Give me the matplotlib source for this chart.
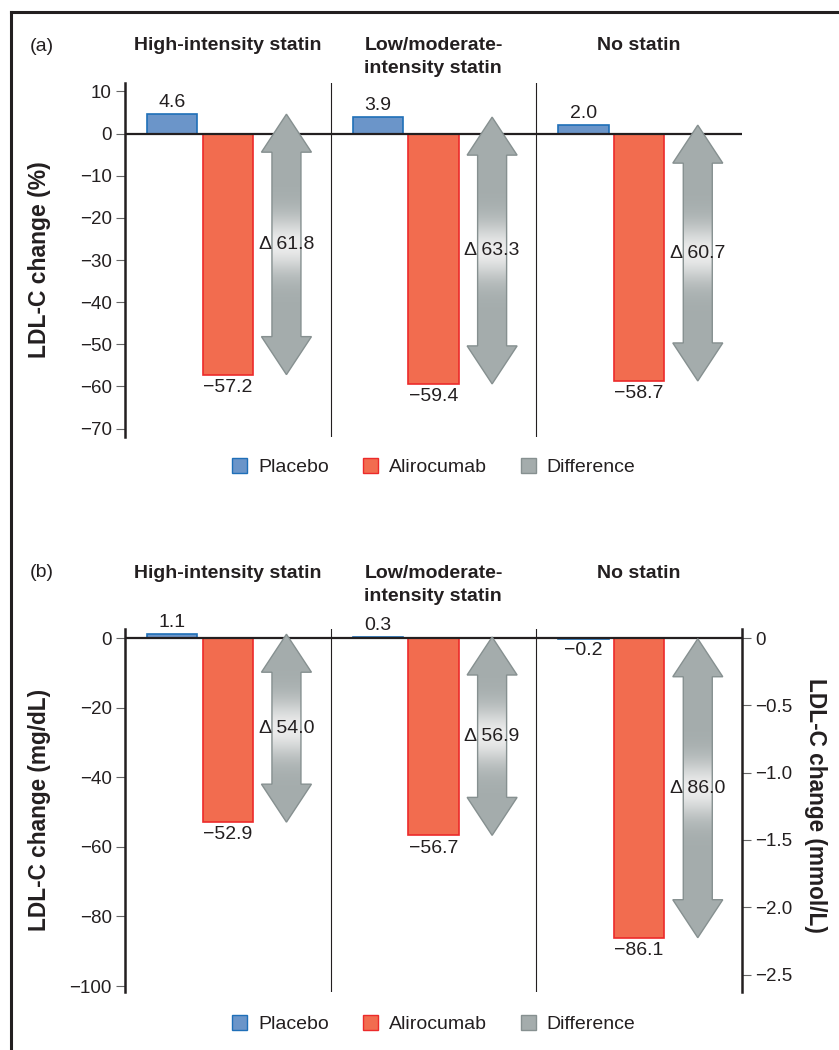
import numpy as np
import matplotlib
matplotlib.use("Agg")
import matplotlib.pyplot as plt
from matplotlib.patches import Polygon, Patch
from matplotlib.lines import Line2D
from matplotlib.colors import to_rgb

plt.rcParams['font.family'] = ['Liberation Sans', 'DejaVu Sans']

# data
groups = ["High-intensity statin", "Low/moderate-\nintensity statin", "No statin"]
pct_placebo = [4.6, 3.9, 2.0]
pct_alirocumab = [-57.2, -59.4, -58.7]
pct_difference = [61.8, 63.3, 60.7]
mgdl_placebo = [1.1, 0.3, -0.2]
mgdl_alirocumab = [-52.9, -56.7, -86.1]
mgdl_difference = [54.0, 56.9, 86.0]
pct_ticks = [10, 0, -10, -20, -30, -40, -50, -60, -70]
mgdl_ticks = [0, -20, -40, -60, -80, -100]
mmol_ticks = [0, -0.5, -1.0, -1.5, -2.0, -2.5]
MGDL_PER_MMOL = 38.67

INK = '#231f20'
BLUE_FILL, BLUE_EDGE = '#6b95c9', '#1f6fb8'
RED_FILL, RED_EDGE = '#f26c4f', '#ec2a2a'
GREY_FILL, GREY_EDGE = '#a4acac', '#869090'
LIGHT = '#ececec'


def fmt(v):
    return f"{v:.1f}".replace('-', '\u2212')


def draw_arrow(ax, xc, top, bottom, delta):
    p0 = ax.transData.transform((0, 0))
    p1 = ax.transData.transform((1, 1))
    ppx, ppy = p1[0] - p0[0], p1[1] - p0[1]
    hl = 38 / ppy
    hw = 25 / ppx
    sw = 14.5 / ppx
    pts = [(xc, top), (xc + hw, top - hl), (xc + sw, top - hl),
           (xc + sw, bottom + hl), (xc + hw, bottom + hl), (xc, bottom),
           (xc - hw, bottom + hl), (xc - sw, bottom + hl),
           (xc - sw, top - hl), (xc - hw, top - hl)]
    poly = Polygon(pts, closed=True, facecolor='none', edgecolor=GREY_EDGE,
                   lw=1.0, zorder=5)
    ax.add_patch(poly)
    mid = (top + bottom) / 2
    ys = np.linspace(bottom, top, 300)
    w = np.exp(-((ys - mid) / (28 / ppy)) ** 2)[:, None]
    img = np.array(to_rgb(GREY_FILL)) * (1 - w) + np.array(to_rgb(LIGHT)) * w
    im = ax.imshow(img[:, None, :], extent=[xc - hw, xc + hw, bottom, top],
                   origin='lower', aspect='auto', zorder=4,
                   interpolation='bilinear')
    im.set_clip_path(poly)
    ax.text(xc, mid, "\u0394 " + f"{delta:.1f}", ha='center', va='center',
            fontsize=14, color=INK, zorder=6)


def panel(ax, placebo, alirocumab, difference, ylim, ticks, title_top):
    ax.set_xlim(0, 3)
    ax.set_ylim(*ylim)
    x = np.arange(len(groups))
    ax.bar(x + 0.23, placebo, 0.245, color=BLUE_FILL, edgecolor=BLUE_EDGE,
           lw=1.2, zorder=2)
    ax.bar(x + 0.50, alirocumab, 0.245, color=RED_FILL, edgecolor=RED_EDGE,
           lw=1.2, zorder=2)
    for xi, v in zip(x + 0.23, placebo):
        ax.annotate(fmt(v), (xi, v), xytext=(0, 2 if v > 0 else -2),
                    textcoords='offset points', ha='center',
                    va='bottom' if v > 0 else 'top', fontsize=14, color=INK)
    for xi, v in zip(x + 0.50, alirocumab):
        ax.annotate(fmt(v), (xi, v), xytext=(0, -3),
                    textcoords='offset points', ha='center', va='top',
                    fontsize=14, color=INK)
    for xi, p, a, d in zip(x + 0.785, placebo, alirocumab, difference):
        draw_arrow(ax, xi, p, a, d)
    ax.axhline(0, color=INK, lw=1.6, zorder=3)
    for b in (1, 2):
        ax.axvline(b, color=INK, lw=0.8, zorder=1)

    for xi, g in zip(x + 0.5, groups):
        ax.text(xi, title_top, g, transform=ax.get_xaxis_transform(),
                ha='center', va='top', multialignment='left', fontsize=14,
                fontweight='bold', color=INK, linespacing=1.45)

    for s in ('top', 'right', 'bottom'):
        ax.spines[s].set_visible(False)
    ax.spines['left'].set_linewidth(1.8)
    ax.spines['left'].set_color(INK)
    ax.set_xticks([])
    ax.set_yticks(ticks)
    ax.set_yticklabels([str(t).replace('-', '\u2212') for t in ticks])
    ax.tick_params(axis='y', length=6.5, width=0.8, color='#666666',
                   labelsize=13.5, labelcolor=INK, pad=3)


fig = plt.figure(figsize=(8.39, 10.5), dpi=100)
ax_a = fig.add_axes([125 / 839, 1 - 437 / 1050, 617 / 839, 354 / 1050])
ax_b = fig.add_axes([125 / 839, 1 - 992 / 1050, 617 / 839, 363 / 1050])

panel(ax_a, pct_placebo, pct_alirocumab, pct_difference, (-72, 12), pct_ticks,
      (437 - 37) / 354)
panel(ax_b, mgdl_placebo, mgdl_alirocumab, mgdl_difference, (-101.7, 2.6),
      mgdl_ticks, (992 - 565) / 363)

ax_r = ax_b.twinx()
lo, hi = ax_b.get_ylim()
ax_r.set_ylim(lo / MGDL_PER_MMOL, hi / MGDL_PER_MMOL)
for s in ('top', 'left', 'bottom'):
    ax_r.spines[s].set_visible(False)
ax_r.spines['right'].set_linewidth(1.8)
ax_r.spines['right'].set_color(INK)
ax_r.set_yticks(mmol_ticks)
ax_r.set_yticklabels(['0'] + [fmt(t) for t in mmol_ticks[1:]])
ax_r.tick_params(axis='y', length=6.5, width=0.8, color='#666666',
                 labelsize=13.5, labelcolor=INK, pad=3)

fig.text(40 / 839, 1 - 260 / 1050, "LDL-C change (%)", rotation=90,
         ha='center', va='center', fontsize=16.5, fontweight='bold', color=INK)
fig.text(40 / 839, 1 - 810 / 1050, "LDL-C change (mg/dL)", rotation=90,
         ha='center', va='center', fontsize=16.3, fontweight='bold', color=INK)
fig.text(815 / 839, 1 - 805 / 1050, "LDL-C change (mmol/L)", rotation=-90,
         ha='center', va='center', fontsize=16.3, fontweight='bold', color=INK)

fig.text(30 / 839, 1 - 51 / 1050, "(a)", fontsize=14, color=INK, va='baseline')
fig.text(30 / 839, 1 - 577 / 1050, "(b)", fontsize=14, color=INK, va='baseline')

handles = [Patch(facecolor=BLUE_FILL, edgecolor=BLUE_EDGE, label='Placebo'),
           Patch(facecolor=RED_FILL, edgecolor=RED_EDGE, label='Alirocumab'),
           Patch(facecolor=GREY_FILL, edgecolor=GREY_EDGE, label='Difference')]
for yc in (1 - 467 / 1050, 1 - 1024 / 1050):
    fig.legend(handles=handles, loc='center', bbox_to_anchor=(0.517, yc),
               ncol=3, frameon=False, fontsize=14, handlelength=0.78,
               handleheight=0.78, handletextpad=0.55, columnspacing=1.75,
               labelcolor=INK)

# frame lines round the figure
fig.add_artist(Line2D([11 / 839, 11 / 839], [0, 1 - 12 / 1050],
                      transform=fig.transFigure, color=INK, lw=2.2))
fig.add_artist(Line2D([11 / 839, 1], [1 - 12 / 1050, 1 - 12 / 1050],
                      transform=fig.transFigure, color=INK, lw=2.2))

fig.savefig("out.png", dpi=100)
